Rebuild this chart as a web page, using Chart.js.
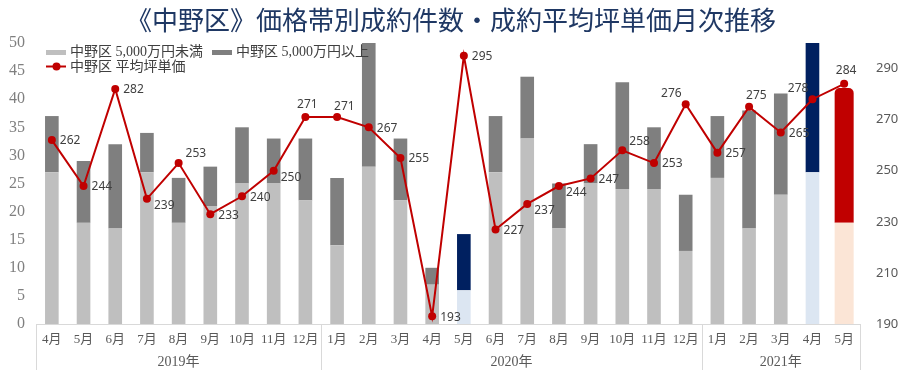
<!DOCTYPE html>
<html><head><meta charset="utf-8">
<script src="https://cdn.jsdelivr.net/npm/chart.js@4/dist/chart.umd.min.js"></script>
<style>html,body{margin:0;padding:0;background:#fff}#wrap{width:900px;height:370px;position:relative}</style>
</head><body><div id="wrap"><canvas id="c" width="900" height="370"></canvas></div>
<script>
const titleText = '《中野区》価格帯別成約件数・成約平均坪単価月次推移';
const months = ['4月','5月','6月','7月','8月','9月','10月','11月','12月','1月','2月','3月','4月','5月','6月','7月','8月','9月','10月','11月','12月','1月','2月','3月','4月','5月'];
const years = [{label:'2019年', from:0, to:8},{label:'2020年', from:9, to:20},{label:'2021年', from:21, to:25}];
const seriesNames = ['中野区 5,000万円未満','中野区 5,000万円以上','中野区 平均坪単価'];
const under50m = [27,18,17,27,18,21,25,25,22,14,28,22,7,6,27,33,17,25,24,24,13,26,17,23,27,null];
const over50m  = [10,11,15,7,8,7,10,8,11,12,22,11,3,10,10,11,8,7,19,11,10,11,21,18,23,null];
const under50mLatest = [null,null,null,null,null,null,null,null,null,null,null,null,null,null,null,null,null,null,null,null,null,null,null,null,null,18];
const over50mLatest  = [null,null,null,null,null,null,null,null,null,null,null,null,null,null,null,null,null,null,null,null,null,null,null,null,null,24];
const avgTsubo = [262,244,282,239,253,233,240,250,271,271,267,255,193,295,227,237,244,247,258,253,276,257,275,265,278,284];
const leftTicks = [0,5,10,15,20,25,30,35,40,45,50];
const rightTicks = [190,210,230,250,270,290];
const labelPlace = ['r','r','r','rd','ru','r','r','rd','u','ur','r','r','r','r','r','rd','rd','r','ru','r','ul','r','ur','r','ul','u'];

const lightCol = months.map((m,i)=> i===13||i===24 ? '#dce6f2' : '#bfbfbf');
const darkCol = months.map((m,i)=> i===13||i===24 ? '#002060' : '#7f7f7f');

const serif = "'Liberation Serif', 'Noto Sans CJK JP', serif";
const sans = "'Noto Sans', 'Open Sans', sans-serif";

const deco = {
  id:'deco',
  afterDatasetsDraw(chart){
    const ctx = chart.ctx;
    const meta = chart.getDatasetMeta(4);
    ctx.save();
    ctx.font = "12px " + sans;
    ctx.fillStyle = '#404040';
    ctx.textBaseline = 'middle';
    meta.data.forEach((pt,i)=>{
      const t = String(avgTsubo[i]);
      const p = labelPlace[i];
      let x = pt.x, y = pt.y, al = 'left';
      if (p==='r'){x+=8; y+=1;}
      else if (p==='rd'){x+=7; y+=7;}
      else if (p==='ru'){x+=7; y-=9;}
      else if (p==='u'){al='center'; x+=2; y-=13;}
      else if (p==='ur'){x-=3; y-=11;}
      else if (p==='ul'){al='right'; x-=4; y-=11;}
      ctx.textAlign = al;
      ctx.fillText(t,x,y);
    });
    ctx.restore();
  },
  afterDraw(chart){
    const ctx = chart.ctx, ca = chart.chartArea, xs = chart.scales.x;
    ctx.save();
    ctx.font = "26px 'Noto Sans CJK JP', serif";
    ctx.fillStyle = '#1f3864';
    ctx.textAlign = 'center'; ctx.textBaseline = 'middle';
    ctx.fillText(titleText, 451, 20);
    ctx.strokeStyle = '#d9d9d9'; ctx.lineWidth = 1;
    ctx.beginPath();
    ctx.moveTo(ca.left, Math.round(ca.bottom)+0.5); ctx.lineTo(ca.right, Math.round(ca.bottom)+0.5);
    const step = xs.getPixelForValue(1) - xs.getPixelForValue(0);
    const bounds = [xs.getPixelForValue(0)-step/2];
    years.forEach(y=> bounds.push(xs.getPixelForValue(y.to)+step/2));
    bounds.forEach(b=>{ const bx = Math.round(b)+0.5; ctx.moveTo(bx, ca.bottom); ctx.lineTo(bx, 370); });
    ctx.stroke();
    ctx.font = "14px " + serif;
    ctx.fillStyle = '#595959';
    years.forEach(y=>{
      const x0 = xs.getPixelForValue(y.from)-step/2, x1 = xs.getPixelForValue(y.to)+step/2;
      ctx.fillText(y.label, (x0+x1)/2, 362);
    });
    ctx.font = "14px " + serif;
    ctx.textAlign = 'left';
    ctx.fillStyle = '#bfbfbf'; ctx.fillRect(46,50,20,5);
    ctx.fillStyle = '#404040'; ctx.fillText(seriesNames[0], 70, 52);
    ctx.fillStyle = '#7f7f7f'; ctx.fillRect(212,50,20,5);
    ctx.fillStyle = '#404040'; ctx.fillText(seriesNames[1], 236, 52);
    ctx.strokeStyle = '#c00000'; ctx.lineWidth = 2;
    ctx.beginPath(); ctx.moveTo(46,66.5); ctx.lineTo(66,66.5); ctx.stroke();
    ctx.fillStyle = '#c00000'; ctx.beginPath(); ctx.arc(56.5,66.5,4,0,Math.PI*2); ctx.fill();
    ctx.fillStyle = '#404040'; ctx.fillText(seriesNames[2], 70, 67);
    ctx.restore();
  }
};

new Chart(document.getElementById('c'), {
  data: {
    labels: months,
    datasets: [
      {type:'bar', label:seriesNames[0], data:under50m, backgroundColor:lightCol, yAxisID:'y', stack:'s', order:2, barPercentage:0.43, categoryPercentage:1},
      {type:'bar', label:seriesNames[1], data:over50m, backgroundColor:darkCol, yAxisID:'y', stack:'s', order:2, barPercentage:0.43, categoryPercentage:1},
      {type:'bar', label:seriesNames[0]+'(最新)', data:under50mLatest, backgroundColor:'#fbe5d6', yAxisID:'y', stack:'s', order:2, barPercentage:0.6, categoryPercentage:1},
      {type:'bar', label:seriesNames[1]+'(最新)', data:over50mLatest, backgroundColor:'#c00000', yAxisID:'y', stack:'s', order:2, barPercentage:0.6, categoryPercentage:1, borderRadius:{topLeft:5,topRight:5,bottomLeft:0,bottomRight:0}, borderSkipped:false},
      {type:'line', label:seriesNames[2], data:avgTsubo, yAxisID:'y1', borderColor:'#c00000', backgroundColor:'#c00000', borderWidth:2, pointRadius:4, pointBackgroundColor:'#c00000', pointBorderWidth:0, tension:0, order:0}
    ]
  },
  options: {
    responsive:false, animation:false,
    layout:{padding:{top:43, left:0, right:0, bottom:0}},
    plugins:{legend:{display:false}, tooltip:{enabled:false}, title:{display:false}},
    scales:{
      x:{stacked:true, offset:true, grid:{display:false}, border:{display:false},
         ticks:{font:{family:serif, size:13}, color:'#595959', padding:0, maxRotation:0, autoSkip:false},
         afterFit(s){ s.height = 46; }},
      y:{stacked:true, position:'left', min:0, max:50, grid:{display:false}, border:{display:false},
         afterBuildTicks(s){ s.ticks = leftTicks.map(v=>({value:v})); },
         ticks:{font:{family:serif, size:16}, color:'#7f7f7f', padding:3},
         afterFit(s){ s.width = 36; }},
      y1:{position:'right', min:190, max:300, grid:{display:false}, border:{display:false},
         afterBuildTicks(s){ s.ticks = rightTicks.map(v=>({value:v})); },
         ticks:{font:{family:sans, size:13}, color:'#595959', padding:8},
         afterFit(s){ s.width = 40; }}
    }
  },
  plugins:[deco]
});
</script></body></html>
